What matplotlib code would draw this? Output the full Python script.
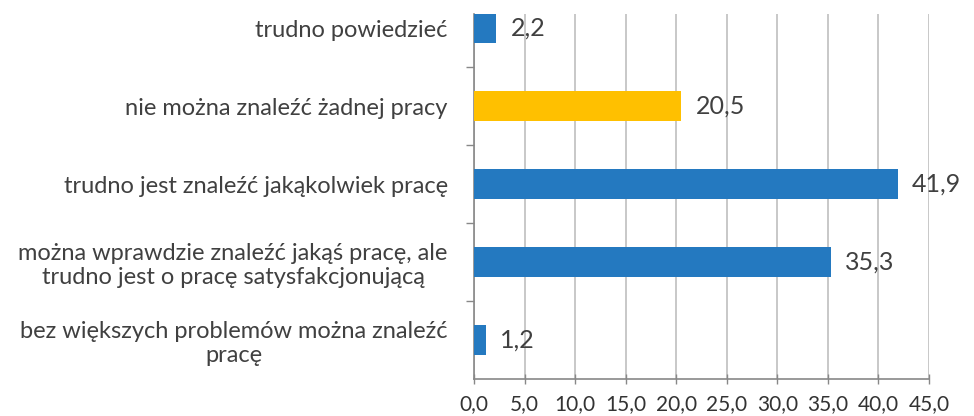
import matplotlib
matplotlib.use("Agg")
import matplotlib.pyplot as plt
from matplotlib.ticker import FixedLocator, FuncFormatter

categories = [
    "bez większych problemów można znaleźć\npracę",
    "można wprawdzie znaleźć jakąś pracę, ale\ntrudno jest o pracę satysfakcjonującą",
    "trudno jest znaleźć jakąkolwiek pracę",
    "nie można znaleźć żadnej pracy",
    "trudno powiedzieć",
]
values = [1.2, 35.3, 41.9, 20.5, 2.2]
bar_colors = ["#2479C0", "#2479C0", "#2479C0", "#FFC000", "#2479C0"]
x_ticks = [0, 5, 10, 15, 20, 25, 30, 35, 40, 45]

plt.rcParams['font.family'] = ['Lato', 'DejaVu Sans']

fig = plt.figure(figsize=(9.74, 4.16), dpi=100)
ax = fig.add_axes([0.4867, 0.0889, 0.4671, 0.8774])

ypos = list(range(len(categories)))
ax.barh(ypos, values, height=0.39, color=bar_colors, zorder=3)

for y, v in zip(ypos, values):
    ax.text(v + 1.4, y, f"{v:.1f}".replace(".", ","), va="center", ha="left",
            fontsize=18, color="#404040", zorder=4)

ax.set_xlim(0, 45)
ax.set_ylim(-0.5, 4.18)
ax.xaxis.set_major_locator(FixedLocator(x_ticks))
ax.xaxis.set_major_formatter(FuncFormatter(lambda v, p: f"{v:.1f}".replace(".", ",")))
ax.grid(axis="x", color="#BFBFBF", linewidth=1.2, zorder=0)

ax.set_yticks(ypos)
ax.set_yticklabels(categories, fontsize=17, color="#404040", ha="right", multialignment="center")
ax.tick_params(axis="y", length=0, pad=19)
ax.set_yticks([i + 0.5 for i in range(len(categories) - 1)], minor=True)
ax.tick_params(axis="y", which="minor", length=6, color="#888888", width=1)

ax.tick_params(axis="x", length=7, direction="inout", color="#888888", width=1,
               labelsize=15, labelcolor="#333333", pad=7)

for s in ["top", "right"]:
    ax.spines[s].set_visible(False)
for s in ["left", "bottom"]:
    ax.spines[s].set_color("#888888")
    ax.spines[s].set_linewidth(1.2)

fig.savefig("out.png", dpi=100)
